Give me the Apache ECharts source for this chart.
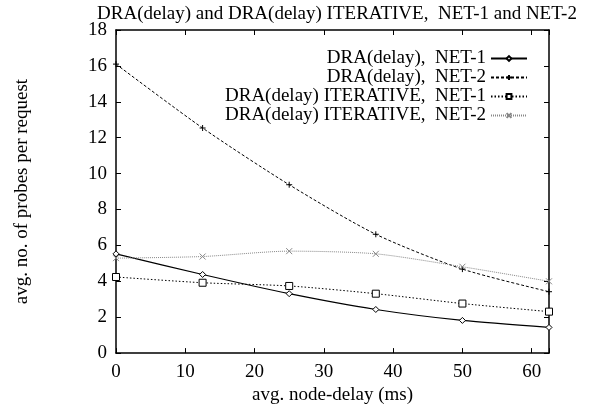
<!DOCTYPE html>
<html>
<head>
<meta charset="utf-8">
<script src="https://cdn.jsdelivr.net/npm/echarts@6/dist/echarts.min.js"></script>
<style>
html, body { margin: 0; padding: 0; background: #fff; }
#chart { width: 595px; height: 410px; }
</style>
</head>
<body>
<div id="chart"></div>
<script>
var delays = [0, 12.5, 25, 37.5, 50, 62.5];
var draNet1 = [5.53, 4.38, 3.31, 2.43, 1.82, 1.43];
var draNet2 = [16.1, 12.54, 9.38, 6.62, 4.68, 3.42];
var iterNet1 = [4.24, 3.92, 3.74, 3.31, 2.76, 2.31];
var iterNet2 = [5.29, 5.38, 5.68, 5.53, 4.81, 4.0];
var seriesNames = ['DRA(delay),  NET-1', 'DRA(delay),  NET-2',
	'DRA(delay) ITERATIVE,  NET-1', 'DRA(delay) ITERATIVE,  NET-2'];

var font = 'Liberation Serif, Times New Roman, serif';
var fs = 19;

function pairs(ys) {
	return delays.map(function(x, i) { return [x, ys[i]]; });
}

var myChart = echarts.init(document.getElementById('chart'));

var plusPath = 'path://M5,0L5,10M0,5L10,5';
var crossPath = 'path://M0,0L10,10M10,0L0,10';

function makeSeries(name, ys, symbol, size, lineType, color, lw) {
	return {
		name: name,
		type: 'line',
		data: pairs(ys),
		smooth: 0.25,
		symbol: symbol,
		symbolSize: size,
		showAllSymbol: true,
		lineStyle: { color: color, width: lw, type: lineType },
		itemStyle: { color: '#fff', borderColor: color, borderWidth: 1 },
		emphasis: { disabled: true },
		z: 3
	};
}

var option = {
	animation: false,
	backgroundColor: '#fff',
	textStyle: { fontFamily: font, color: '#000' },
	title: {
		text: 'DRA(delay) and DRA(delay) ITERATIVE,  NET-1 and NET-2',
		left: 332,
		textAlign: 'center',
		top: 0,
		textStyle: { fontFamily: font, fontSize: fs, fontWeight: 'normal', color: '#000' }
	},
	legend: {
		orient: 'vertical',
		right: 62,
		top: 44,
		align: 'right',
		itemWidth: 36,
		itemHeight: 6,
		itemGap: 0,
		textStyle: { fontFamily: font, fontSize: fs, lineHeight: 18.3, color: '#000' },
		data: seriesNames
	},
	grid: { left: 116, right: 46, top: 30, bottom: 55 },
	xAxis: [{
		type: 'value',
		min: 0,
		max: 62.5,
		interval: 10,
		name: 'avg. node-delay (ms)',
		nameLocation: 'middle',
		nameGap: 32,
		nameTextStyle: { fontFamily: font, fontSize: fs, color: '#000' },
		axisLine: { onZero: false, lineStyle: { color: '#000', width: 1.5 } },
		axisTick: { inside: true, length: 5, lineStyle: { color: '#000' } },
		axisLabel: {
			margin: 9, fontFamily: font, fontSize: fs, color: '#000',
			formatter: function(v) { return v % 10 === 0 ? v : ''; }
		},
		splitLine: { show: false }
	}, {
		type: 'value',
		position: 'top',
		min: 0,
		max: 62.5,
		interval: 10,
		axisLine: { onZero: false, lineStyle: { color: '#000', width: 1.5 } },
		axisTick: { inside: true, length: 5, lineStyle: { color: '#000' } },
		axisLabel: { show: false },
		splitLine: { show: false }
	}],
	yAxis: [{
		type: 'value',
		min: 0,
		max: 18,
		interval: 2,
		name: 'avg. no. of probes per request',
		nameLocation: 'middle',
		nameGap: 84,
		nameTextStyle: { fontFamily: font, fontSize: fs, color: '#000' },
		axisLine: { show: true, onZero: false, lineStyle: { color: '#000', width: 1.5 } },
		axisTick: { show: true, inside: true, length: 5, lineStyle: { color: '#000' } },
		axisLabel: { margin: 9, fontFamily: font, fontSize: fs, color: '#000' },
		splitLine: { show: false }
	}, {
		type: 'value',
		position: 'right',
		min: 0,
		max: 18,
		interval: 2,
		axisLine: { show: true, onZero: false, lineStyle: { color: '#000', width: 1.5 } },
		axisTick: { show: true, inside: true, length: 5, lineStyle: { color: '#000' } },
		axisLabel: { show: false },
		splitLine: { show: false }
	}],
	series: [
		makeSeries(seriesNames[0], draNet1, 'diamond', 6, 'solid', '#000', 1.2),
		makeSeries(seriesNames[1], draNet2, plusPath, 6, [3, 2], '#000', 1),
		makeSeries(seriesNames[2], iterNet1, 'rect', 7, [1.5, 2], '#000', 1),
		makeSeries(seriesNames[3], iterNet2, crossPath, 6, [1, 1], '#888', 1)
	]
};

myChart.setOption(option);
</script>
</body>
</html>
